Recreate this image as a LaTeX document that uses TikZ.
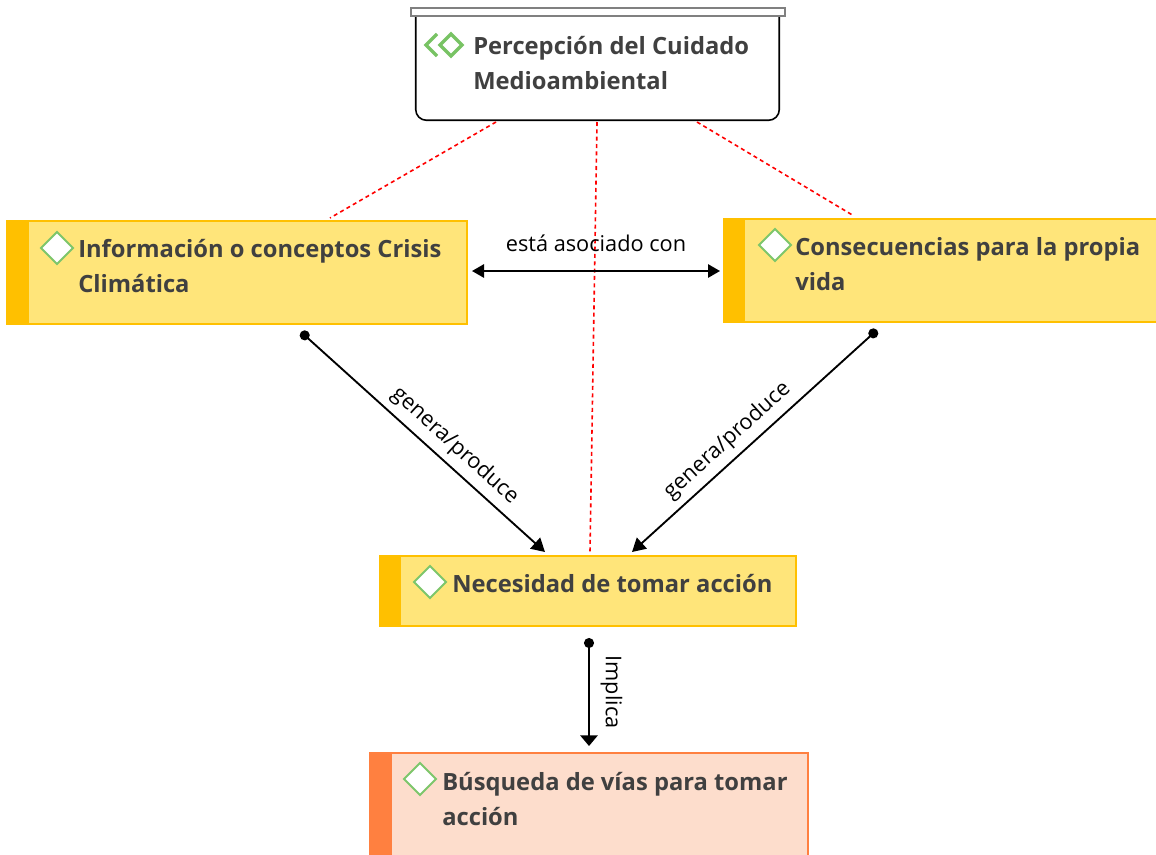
\documentclass[tikz,border=0pt]{standalone}
\usepackage{fontspec}
\setmainfont{Open Sans}
\usetikzlibrary{arrows.meta,calc}
\definecolor{yelbar}{RGB}{255,192,0}
\definecolor{yelfill}{RGB}{255,229,122}
\definecolor{orbar}{RGB}{255,128,64}
\definecolor{orfill}{RGB}{253,221,204}
\definecolor{txtgray}{RGB}{64,64,64}
\definecolor{icong}{RGB}{125,198,107}
\definecolor{iconl}{RGB}{120,195,100}
\begin{document}
\begin{tikzpicture}[x=0.75pt,y=-0.75pt,
  ybox/.style={draw=yelbar,fill=yelfill,line width=1.5pt,inner sep=0,minimum width=#1*0.75pt},
  obox/.style={draw=orbar,fill=orfill,line width=1.5pt,inner sep=0,minimum width=#1*0.75pt},
  ttl/.style={anchor=west,inner sep=0,align=left,text=txtgray,font=\fontsize{17.8}{26}\selectfont\bfseries},
  lbl/.style={font=\fontsize{16.3}{18}\selectfont,text=black,inner sep=2pt},
  link/.style={line width=1.4pt,draw=black},
  reddash/.style={draw=red,line width=1.2pt,dash pattern=on 3pt off 2.5pt},
  dmd/.pic={\draw[icong,line width=1.5pt,fill=white,line join=miter] (-16,0) -- (0,-16) -- (16,0) -- (0,16) -- cycle;}
]
\useasboundingbox (0,0) rectangle (1156,854);
\clip (0,0) rectangle (1156,854);

% top node
\node[inner sep=0,minimum width=363*0.75pt,minimum height=104*0.75pt] (T) at (597.5,68) {};
\draw[black,line width=1.2pt,rounded corners=8pt] (T.north west) -- (T.south west) -- (T.south east) -- (T.north east);
\draw[gray,line width=2pt,fill=white] (411,8) rectangle (785,16);
\draw[iconl,line width=2.4pt,line join=miter] (437,34) -- (426,45) -- (437,56);
\draw[iconl,line width=2.4pt,fill=white,line join=miter] (451,34) -- (462,45) -- (451,56) -- (440,45) -- cycle;
\node[ttl] (Tt) at (473,63) {Percepción del Cuidado\\Medioambiental};

% left node
\node[ybox=460,minimum height=103*0.75pt] (L) at (237,272.5) {};
\fill[yelbar] (L.north west) rectangle ($(L.south west)+(23,0)$);
\pic at (57,248) {dmd};
\node[ttl] (Lt) at (78,266) {Información o conceptos Crisis\\Climática};

% right node
\node[ybox=440,minimum height=103*0.75pt] (R) at (944,270.5) {};
\fill[yelbar] (R.north west) rectangle ($(R.south west)+(22,0)$);
\pic at (775,245) {dmd};
\node[ttl] (Rt) at (795,264) {Consecuencias para la propia\\vida};

% middle node
\node[ybox=416,minimum height=70*0.75pt] (M) at (588,591) {};
\fill[yelbar] (M.north west) rectangle ($(M.south west)+(22,0)$);
\pic at (430,582) {dmd};
\node[ttl] (Mt) at (452,584) {Necesidad de tomar acción};

% bottom node
\node[obox=438,minimum height=120*0.75pt] (B) at (589,813) {};
\fill[orbar] (B.north west) rectangle ($(B.south west)+(23,0)$);
\pic at (420,779) {dmd};
\node[ttl] (Bt) at (442,799) {Búsqueda de vías para tomar\\acción};

% dashed links
\coordinate (t1) at (496,122); \coordinate (l1) at (330,218);
\coordinate (t2) at (597,122); \coordinate (m1) at (590,552);
\coordinate (t3) at (697,122); \coordinate (r1) at (854,216);
\draw[reddash] (t1) -- (l1);
\draw[reddash] (t2) -- (m1);
\draw[reddash] (t3) -- (r1);

% arrows
\coordinate (a1) at (472,271); \coordinate (a2) at (720,271);
\draw[link,{Triangle[width=10pt,length=9pt]}-{Triangle[width=10pt,length=9pt]}] (a1) -- (a2);
\node[lbl] (lab1) at (596,243) {está asociado con};

\coordinate (s1) at (301,332); \coordinate (e1) at (545,552);
\draw[link,{Circle[length=7.5pt]}-{Triangle[width=11pt,length=10pt]}] (s1) -- (e1) node[lbl,pos=0.58,sloped,above=3pt] (lab2) {genera/produce};

\coordinate (s2) at (877,330); \coordinate (e2) at (632,552);
\draw[link,{Circle[length=7.5pt]}-{Triangle[width=11pt,length=10pt]}] (s2) -- (e2) node[lbl,pos=0.56,sloped,above=3pt] (lab3) {genera/produce};

\coordinate (s3) at (589,638); \coordinate (e3) at (589,746);
\draw[link,{Circle[length=7.5pt]}-{Triangle[width=13pt,length=8pt]}] (s3) -- (e3) node[lbl,midway,rotate=-90,anchor=south,yshift=6pt] (lab4) {Implica};
\end{tikzpicture}
\end{document}
